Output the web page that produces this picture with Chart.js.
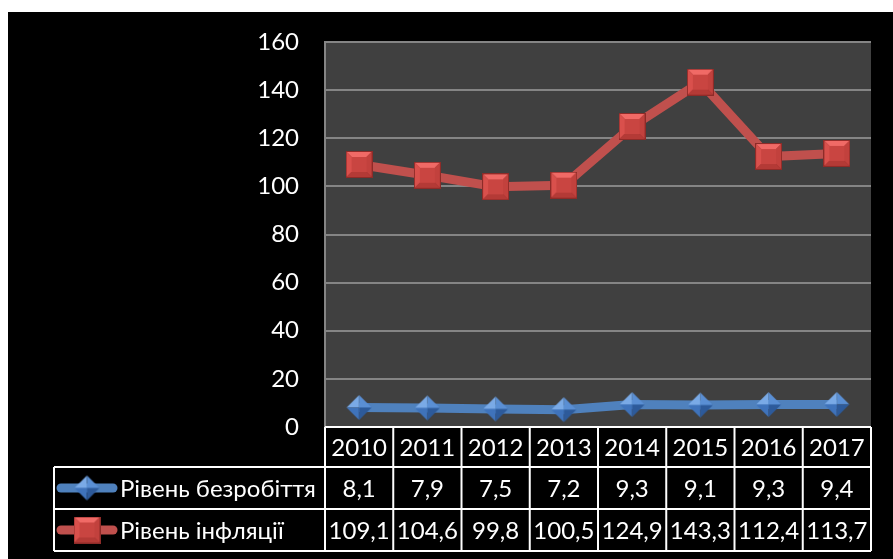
<!DOCTYPE html>
<html>
<head>
<meta charset="utf-8">
<script src="https://cdn.jsdelivr.net/npm/chart.js@4/dist/chart.umd.min.js"></script>
<style>
  body { margin: 0; background: #fff; }
  canvas { display: block; }
</style>
</head>
<body>
<canvas id="chart" width="893" height="559"></canvas>
<script>
const years = ["2010", "2011", "2012", "2013", "2014", "2015", "2016", "2017"];
const unemployment = [8.1, 7.9, 7.5, 7.2, 9.3, 9.1, 9.3, 9.4];
const inflation = [109.1, 104.6, 99.8, 100.5, 124.9, 143.3, 112.4, 113.7];
const seriesNames = ["Рівень безробіття", "Рівень інфляції"];
const yTicks = [0, 20, 40, 60, 80, 100, 120, 140, 160];

const FONT = "Lato, 'Open Sans', sans-serif";

// bevelled marker images
function diamondMarker(size) {
  const c = document.createElement("canvas");
  c.width = size; c.height = size;
  const g = c.getContext("2d");
  const m = size / 2;
  const faces = [
    [[m, 1], [1, m], [m, m], "#7aaae6"],
    [[m, 1], [size - 1, m], [m, m], "#5a8fd4"],
    [[1, m], [m, size - 1], [m, m], "#3f73bb"],
    [[size - 1, m], [m, size - 1], [m, m], "#2d5a9a"]
  ];
  for (const f of faces) {
    g.beginPath();
    g.moveTo(...f[0]); g.lineTo(...f[1]); g.lineTo(...f[2]);
    g.closePath();
    g.fillStyle = f[3];
    g.fill();
  }
  return c;
}

function squareMarker(size) {
  const c = document.createElement("canvas");
  c.width = size; c.height = size;
  const g = c.getContext("2d");
  const b = 5;
  g.fillStyle = "#8e2b28";
  g.fillRect(0, 0, size, size);
  const s = size - 2;
  const o = 1;
  const poly = (pts, col) => {
    g.beginPath();
    g.moveTo(...pts[0]);
    for (let i = 1; i < pts.length; i++) g.lineTo(...pts[i]);
    g.closePath();
    g.fillStyle = col;
    g.fill();
  };
  const m = size / 2;
  poly([[o, o], [o + s, o], [m, m]], "#f06a66");
  poly([[o, o], [o, o + s], [m, m]], "#d9504c");
  poly([[o + s, o], [o + s, o + s], [m, m]], "#c2413d");
  poly([[o, o + s], [o + s, o + s], [m, m]], "#b43a36");
  g.fillStyle = "#c94541";
  g.fillRect(o + b, o + b, s - 2 * b, s - 2 * b);
  return c;
}

const blueMark = diamondMarker(27);
const redMark = squareMarker(27);

const background = {
  id: "background",
  beforeDraw(chart) {
    const { ctx, chartArea } = chart;
    ctx.save();
    ctx.fillStyle = "#fff";
    ctx.fillRect(0, 0, chart.width, chart.height);
    ctx.fillStyle = "#000";
    ctx.fillRect(8, 12, chart.width - 8, chart.height - 12);
    ctx.fillStyle = "#404040";
    ctx.fillRect(chartArea.left, chartArea.top, chartArea.right - chartArea.left, chartArea.bottom - chartArea.top);
    ctx.restore();
  }
};

const dataTable = {
  id: "dataTable",
  afterDraw(chart) {
    const { ctx, chartArea } = chart;
    const xs = chart.scales.x;
    const top = chartArea.bottom;
    const rows = [top, top + 40, top + 82, top + 124];
    const tableLeft = 54;
    const edges = [xs.left];
    for (let i = 1; i < years.length; i++) {
      edges.push((xs.getPixelForValue(i - 1) + xs.getPixelForValue(i)) / 2);
    }
    edges.push(xs.right);

    ctx.save();
    ctx.strokeStyle = "#fff";
    ctx.lineWidth = 2;
    ctx.beginPath();
    ctx.moveTo(xs.left, rows[0]); ctx.lineTo(xs.right, rows[0]);
    for (let r = 1; r < rows.length; r++) {
      ctx.moveTo(tableLeft, rows[r]); ctx.lineTo(xs.right, rows[r]);
    }
    for (const e of edges) {
      ctx.moveTo(e, rows[0]); ctx.lineTo(e, rows[3]);
    }
    ctx.moveTo(tableLeft, rows[1]); ctx.lineTo(tableLeft, rows[3]);
    ctx.stroke();

    ctx.fillStyle = "#fff";
    ctx.font = "24px " + FONT;
    ctx.textAlign = "center";
    ctx.textBaseline = "middle";
    const fmt = v => String(v).replace(".", ",");
    const values = [unemployment, inflation];
    years.forEach((y, i) => {
      const cx = xs.getPixelForValue(i);
      ctx.fillText(y, cx, (rows[0] + rows[1]) / 2 + 1);
      values.forEach((vals, r) => {
        ctx.fillText(fmt(vals[i]), cx, (rows[r + 1] + rows[r + 2]) / 2 + 1);
      });
    });

    // legend keys inside table
    const keys = [["#4f81bd", blueMark], ["#c0504d", redMark]];
    keys.forEach((k, r) => {
      const cy = (rows[r + 1] + rows[r + 2]) / 2;
      ctx.strokeStyle = k[0];
      ctx.lineWidth = 9;
      ctx.lineCap = "round";
      ctx.beginPath();
      ctx.moveTo(61, cy); ctx.lineTo(113, cy);
      ctx.stroke();
      ctx.drawImage(k[1], 87 - k[1].width / 2, cy - k[1].height / 2);
      ctx.textAlign = "left";
      ctx.fillText(seriesNames[r], 120, cy + 1);
    });
    ctx.restore();
  }
};

new Chart(document.getElementById("chart"), {
  type: "line",
  data: {
    labels: years,
    datasets: [
      {
        label: seriesNames[0],
        data: unemployment,
        borderColor: "#4f81bd",
        borderWidth: 9,
        pointStyle: blueMark,
        pointRadius: 13
      },
      {
        label: seriesNames[1],
        data: inflation,
        borderColor: "#c0504d",
        borderWidth: 9,
        pointStyle: redMark,
        pointRadius: 13
      }
    ]
  },
  options: {
    responsive: false,
    animation: false,
    layout: { padding: { left: 0, top: 42, right: 17, bottom: 132 } },
    plugins: {
      legend: { display: false },
      tooltip: { enabled: false }
    },
    scales: {
      x: {
        type: "category",
        offset: true,
        display: false
      },
      y: {
        min: 0,
        max: 160,
        afterFit(scale) { scale.width = 325; },
        afterBuildTicks(scale) { scale.ticks = yTicks.map(v => ({ value: v })); },
        grid: { color: "#858585", lineWidth: 2, drawTicks: false },
        border: { color: "#858585", width: 2 },
        ticks: {
          color: "#fff",
          padding: 26,
          font: { family: FONT, size: 24 }
        }
      }
    }
  },
  plugins: [background, dataTable]
});
</script>
</body>
</html>
